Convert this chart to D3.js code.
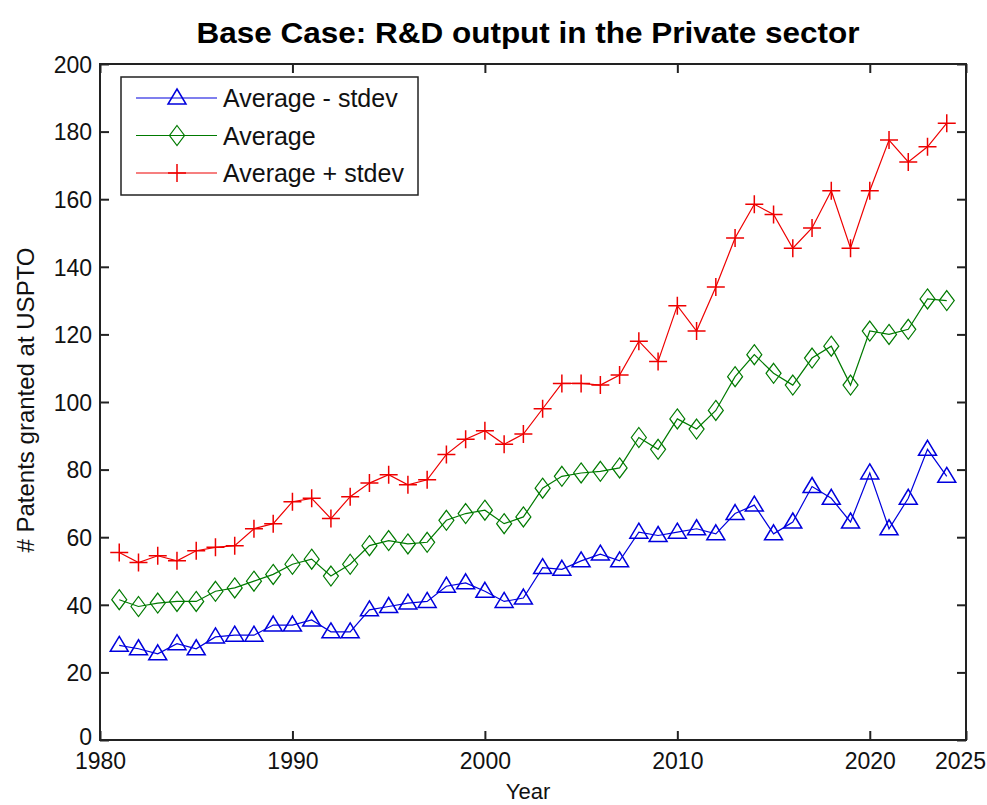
<!DOCTYPE html>
<html><head><meta charset="utf-8">
<script src="https://cdn.jsdelivr.net/npm/d3@7"></script>
<style>body{margin:0;background:#fff}svg{font-family:"Liberation Sans",Arial,sans-serif}</style>
</head><body><svg id="c" width="987" height="805"></svg>
<script>
const years = d3.range(1981, 2025);
const avgMinus = [28,27,25.5,28.5,27,30.5,31,31,34,34,35.5,32,32,38.5,39.5,40.5,41,45.5,46.5,44,41,42,51,50.5,53,55,53,61.5,60.5,61.5,62.5,61,67,69.5,61,64.5,75,71.5,64.5,79,62.5,71.5,86,78];
const avg = [41.5,39.5,40.5,41,41,44,45,47,49,52,53.5,48.5,52,57.5,59,58,58.5,65,67,68,64,66,74.5,78,79,79.5,80.5,89.5,86,95,92,97.5,107.5,114,108.5,105,113,116.5,105,121,120,121.5,130.5,130];
const avgPlus = [55.5,52.5,54.5,53,56,57,57.5,62.5,64,70.5,71.5,65.5,72,76,78.5,75.5,77,84.5,89,91.5,87.5,90.5,98,105.5,105.5,105,108,118,112,128.5,121,134,148.5,158.5,155.5,145.5,151.5,162.5,145.5,162.5,177.5,171,175.5,182.5];
const xTicks = [1980,1990,2000,2010,2020,2025];
const yTicks = [0,20,40,60,80,100,120,140,160,180,200];
const seriesNames = ["Average - stdev","Average","Average + stdev"];
const seriesColors = ["#0000dd","#007a00","#ee0000"];
const seriesMarkers = ["tri","dia","plus"];
const seriesData = [avgMinus, avg, avgPlus];

const svg = d3.select("#c");
const L=100,R=966,T=64,B=740;
const x = d3.scaleLinear().domain([1980,2025]).range([L,R]);
const y = d3.scaleLinear().domain([0,200]).range([B,T]);

svg.append("rect").attr("x",L).attr("y",T).attr("width",R-L).attr("height",B-T).attr("fill","#fff").attr("stroke","#222").attr("stroke-width",2);

const tl=9;
const gx = svg.append("g").attr("transform",`translate(0,${B})`)
  .call(d3.axisBottom(x).tickValues(xTicks).tickFormat(d3.format("d")).tickSizeInner(-tl).tickSizeOuter(0).tickPadding(13));
const gxt = svg.append("g").attr("transform",`translate(0,${T})`)
  .call(d3.axisTop(x).tickValues(xTicks).tickFormat("").tickSizeInner(-tl).tickSizeOuter(0));
const gy = svg.append("g").attr("transform",`translate(${L},0)`)
  .call(d3.axisLeft(y).tickValues(yTicks).tickSizeInner(-tl).tickSizeOuter(0).tickPadding(8));
const gyr = svg.append("g").attr("transform",`translate(${R},0)`)
  .call(d3.axisRight(y).tickValues(yTicks).tickFormat("").tickSizeInner(-tl).tickSizeOuter(0));
[gx,gxt,gy,gyr].forEach(g=>{g.select(".domain").remove();g.selectAll("line").attr("stroke","#222").attr("stroke-width",2);
  g.selectAll("text").attr("font-size",23).attr("fill","#111").attr("font-family","Liberation Sans, Arial, sans-serif");});
gy.selectAll("text").attr("dy","0.36em");
gy.selectAll(".tick").filter(d=>d===0).select("text").attr("dy","0.2em");
gx.selectAll(".tick").filter(d=>d===2025).select("text").attr("dx",-6);

function marker(g, type, cx, cy, color){
  if(type==="tri"){
    g.append("path").attr("d",`M${cx},${cy-9}L${cx+9},${cy+6}L${cx-9},${cy+6}Z`).attr("fill","none").attr("stroke",color).attr("stroke-width",1.5);
  } else if(type==="dia"){
    g.append("path").attr("d",`M${cx},${cy-10}L${cx+7.5},${cy}L${cx},${cy+10}L${cx-7.5},${cy}Z`).attr("fill","none").attr("stroke",color).attr("stroke-width",1.2);
  } else {
    g.append("path").attr("d",`M${cx-9},${cy}H${cx+9}M${cx},${cy-9}V${cy+9}`).attr("fill","none").attr("stroke",color).attr("stroke-width",1.5);
  }
}

const line = d3.line().x((d,i)=>x(years[i])).y(d=>y(d));
seriesData.forEach((arr,k)=>{
  const g = svg.append("g");
  g.append("path").datum(arr).attr("d",line).attr("fill","none").attr("stroke",seriesColors[k]).attr("stroke-width",1.2);
  arr.forEach((v,i)=>marker(g,seriesMarkers[k],x(years[i]),y(v),seriesColors[k]));
});

// legend
const lg = svg.append("g");
lg.append("rect").attr("x",121).attr("y",77).attr("width",297).attr("height",118).attr("fill","#fff").attr("stroke","#222").attr("stroke-width",1.5);
seriesNames.forEach((n,k)=>{
  const ly = 98 + k*37.5;
  lg.append("line").attr("x1",136).attr("x2",217).attr("y1",ly).attr("y2",ly).attr("stroke",seriesColors[k]).attr("stroke-width",1.2);
  marker(lg,seriesMarkers[k],177,ly,seriesColors[k]);
  lg.append("text").attr("x",223).attr("y",ly+9).attr("font-size",25).attr("fill","#111").text(n);
});

svg.append("text").attr("x",528).attr("y",43).attr("text-anchor","middle").attr("font-size",29).attr("font-weight","bold")
  .attr("textLength",663).attr("lengthAdjust","spacingAndGlyphs").text("Base Case: R&D output in the Private sector");
svg.append("text").attr("x",528).attr("y",799).attr("text-anchor","middle").attr("font-size",22).attr("fill","#111").text("Year");
svg.append("text").attr("transform",`translate(34,400) rotate(-90)`).attr("text-anchor","middle").attr("font-size",24).attr("fill","#111").text("# Patents granted at USPTO");
</script></body></html>
